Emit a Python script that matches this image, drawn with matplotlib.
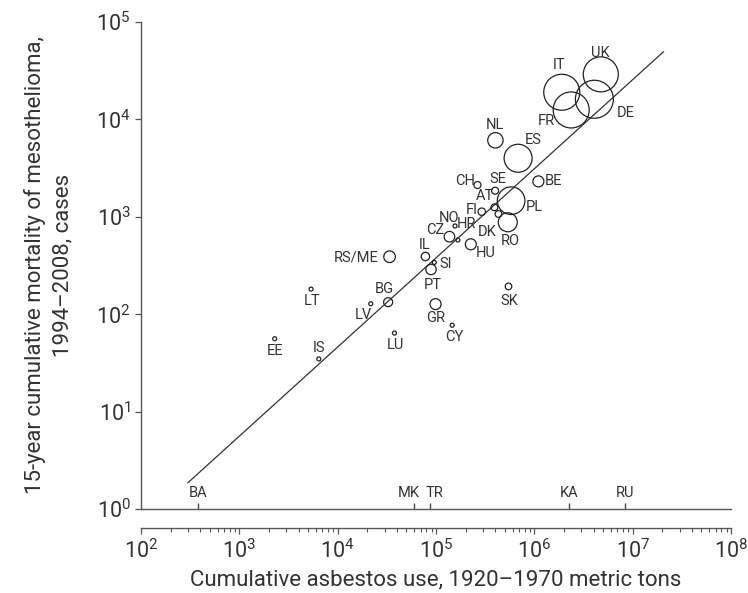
import numpy as np
import matplotlib
matplotlib.use('Agg')
from matplotlib import pyplot as plt
from matplotlib.ticker import LogLocator, NullLocator, NullFormatter

plt.rcParams['font.family'] = ['Roboto', 'DejaVu Sans']

# countries with deaths > 0
countries = ['UK', 'IT', 'DE', 'FR', 'NL', 'ES', 'BE', 'CH', 'SE', 'PL', 'AT', 'FI',
             'DK', 'RO', 'NO', 'HR', 'CZ', 'HU', 'IL', 'SI', 'PT', 'SK', 'GR', 'BG',
             'RS/ME', 'LT', 'LV', 'EE', 'IS', 'LU', 'CY']
asbestos_use = [4.74e6, 1.90e6, 4.08e6, 2.37e6, 4.02e5, 6.84e5, 1.10e6, 2.64e5, 3.99e5,
                5.81e5, 3.93e5, 2.92e5, 4.32e5, 5.37e5, 1.56e5, 1.67e5, 1.37e5, 2.26e5,
                7.8e4, 9.6e4, 8.9e4, 5.46e5, 9.9e4, 3.26e4, 3.37e4, 5360, 2.17e4, 2290,
                6430, 3.78e4, 1.46e5]
deaths = [29000, 19000, 16100, 12500, 6100, 3990, 2310, 2120, 1854, 1463, 1252, 1128,
          1069, 879, 805, 578, 625, 522, 391, 340, 288, 193, 127, 133, 389, 181, 128,
          56, 34.7, 64, 77]
# relative bubble size (population)
bubble = [17.5, 18, 19, 18, 7.7, 14, 5.5, 3.5, 3.5, 13.8, 3.4, 3.7, 3.4, 9.5, 2, 2,
          5.3, 5.5, 4.2, 2, 5.2, 3.3, 5.5, 4.5, 5.8, 2, 2, 2, 2, 2, 2]

# countries with no recorded deaths (shown on the baseline)
zero_countries = ['BA', 'MK', 'TR', 'KA', 'RU']
zero_use = [380, 6.0e4, 8.7e4, 2.26e6, 8.3e6]

# fitted line: log10(y) = a + b*log10(x)
fit_a, fit_b = -1.997, 0.915
fit_range = [300, 2.06e7]

# label offsets in pixels (dx, dy downward)
label_off = {
    'UK': (0, -21), 'IT': (-3, -27), 'DE': (31, 14), 'FR': (-25, 11), 'NL': (0, -15),
    'ES': (15, -18), 'BE': (15, 0), 'CH': (-12, -4), 'SE': (3, -12), 'PL': (23, 6),
    'AT': (-9, -11), 'FI': (-10, -2), 'DK': (-11, 18), 'RO': (2, 19), 'NO': (-6, -8),
    'HR': (9, -16), 'CZ': (-14, -7), 'HU': (15, 9), 'IL': (-1, -12), 'SI': (11, 2),
    'PT': (2, 16), 'SK': (1, 15), 'GR': (0, 14), 'BG': (-4, -13), 'RS/ME': (-33, 1),
    'LT': (1, 12), 'LV': (-7, 11), 'EE': (0, 12), 'IS': (0, -11), 'LU': (1, 12),
    'CY': (2, 12),
}
zero_off = {'BA': 0, 'MK': -5, 'TR': 4, 'KA': 0, 'RU': 0}

ink = '#333333'
px = 72 / 100

fig = plt.figure(figsize=(7.48, 5.93), dpi=100)
ax = fig.add_axes([141 / 748, 84 / 593, 590 / 748, 487 / 593])
ax.set_xscale('log')
ax.set_yscale('log')
ax.set_xlim(1e2, 1e8)
ax.set_ylim(1, 1e5)

# regression line
xs = np.array(fit_range)
ax.plot(xs, 10 ** (fit_a + fit_b * np.log10(xs)), color=ink, lw=0.9)

# bubbles
sizes = [(2 * r * px) ** 2 for r in bubble]
ax.scatter(asbestos_use, deaths, s=sizes, facecolors='none', edgecolors='#222222',
           linewidths=0.9, zorder=3, clip_on=False)
for name, x, y in zip(countries, asbestos_use, deaths):
    dx, dy = label_off[name]
    ax.annotate(name, (x, y), xytext=(dx * px, -dy * px), textcoords='offset points',
                ha='center', va='center', fontsize=10.5, color=ink)

# baseline at 10^0 with ticks for zero-death countries
ax.axhline(1, color='#555555', lw=1, clip_on=False)
ax.plot(zero_use, [1] * len(zero_use), ls='none', marker=2, ms=4, mew=1,
        color='#444444', clip_on=False)
for name, x in zip(zero_countries, zero_use):
    ax.annotate(name, (x, 1), xytext=(zero_off[name] * px, 16 * px),
                textcoords='offset points', ha='center', va='center',
                fontsize=10.5, color=ink)

for s in ['top', 'right']:
    ax.spines[s].set_visible(False)
ax.spines['bottom'].set_position(('outward', 19 * px))
for s in ['left', 'bottom']:
    ax.spines[s].set_color('#555555')
    ax.spines[s].set_linewidth(1)

ax.xaxis.set_major_locator(LogLocator(base=10, numticks=10))
ax.xaxis.set_minor_locator(LogLocator(base=10, subs=np.arange(2, 10), numticks=10))
ax.xaxis.set_minor_formatter(NullFormatter())
ax.yaxis.set_major_locator(LogLocator(base=10, numticks=10))
ax.yaxis.set_minor_locator(NullLocator())
ax.tick_params(axis='both', which='major', direction='out', length=4.5, width=0.9,
               color='#555555', labelsize=15.5, labelcolor=ink)
ax.tick_params(axis='x', which='minor', direction='out', length=3, width=0.8,
               color='#555555')
ax.tick_params(axis='x', which='major', pad=4)
ax.tick_params(axis='y', which='major', pad=3)

ax.set_xlabel('Cumulative asbestos use, 1920\u20131970 metric tons', fontsize=16,
              color=ink, labelpad=4)
ax.set_ylabel('15-year cumulative mortality of mesothelioma,\n1994\u20132008, cases',
              fontsize=16, color=ink, labelpad=16, linespacing=1.45)

fig.savefig('out.png', dpi=100)
